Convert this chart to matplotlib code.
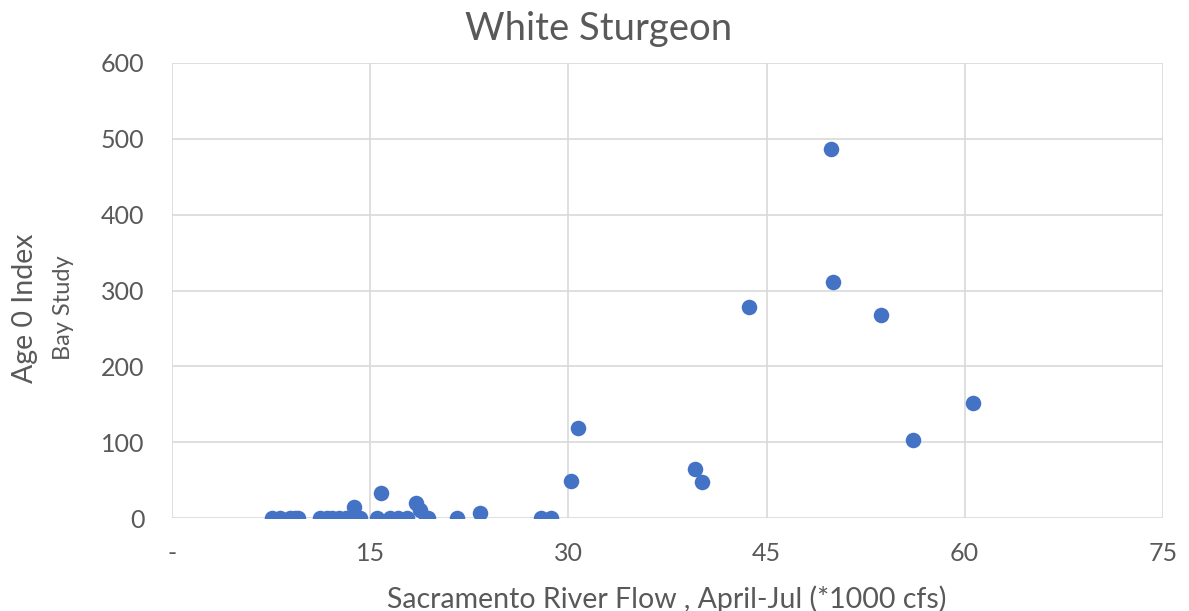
import matplotlib
matplotlib.use('Agg')
import matplotlib.pyplot as plt

# Sacramento River flow (April-Jul, *1000 cfs) vs Bay Study age-0 index
flow = [7.6, 8.2, 8.9, 9.3, 9.5,
        11.2, 11.7, 12.1, 12.6, 13.2, 13.9, 14.2,
        13.8, 15.5, 15.8, 16.5, 17.1, 17.8,
        18.5, 18.8, 19.2, 19.4,
        21.6, 23.3, 27.9, 28.7, 30.2, 30.7,
        39.6, 40.1, 43.7, 49.9, 50.0, 53.7, 56.1, 60.6]
index = [0, 0, 0, 0, 0,
         0, 0, 0, 0, 0, 0, 0,
         15, 0, 33, 0, 0, 0,
         20, 11, 0, 0,
         0, 7, 0, 0, 49, 119,
         65, 48, 278, 487, 311, 268, 103, 152]

xticks = [0, 15, 30, 45, 60, 75]
xtick_labels = ['-', '15', '30', '45', '60', '75']
yticks = [0, 100, 200, 300, 400, 500, 600]

text_color = '#595959'
grid_color = '#d9d9d9'

plt.rcParams['font.family'] = ['Lato', 'DejaVu Sans']

fig = plt.figure(figsize=(11.89, 6.11), dpi=100)
ax = fig.add_axes([0.1447, 0.152, 0.8333, 0.745])

ax.scatter(flow, index, s=125, color='#4472C4', zorder=3, linewidths=0)

ax.set_xlim(0, 75)
ax.set_ylim(0, 600)
ax.set_xticks(xticks)
ax.set_xticklabels(xtick_labels)
ax.set_yticks(yticks)
ax.grid(True, color=grid_color, linewidth=1.2)
ax.set_axisbelow(True)
for s in ax.spines.values():
    s.set_visible(False)
ax.tick_params(length=0, labelsize=18, labelcolor=text_color)
ax.tick_params(axis='y', pad=20)
ax.tick_params(axis='x', pad=17)

fig.text(0.503, 0.952, 'White Sturgeon', ha='center', va='center', fontsize=27.5, color=text_color)
fig.text(0.561, 0.020, 'Sacramento River Flow , April-Jul (*1000 cfs)', ha='center', va='center',
         fontsize=20.5, color=text_color)
fig.text(0.021, 0.496, 'Age 0 Index', rotation=90, ha='center', va='center', fontsize=20.5, color=text_color)
fig.text(0.053, 0.496, 'Bay Study', rotation=90, ha='center', va='center', fontsize=17, color=text_color)

fig.savefig('out.png', dpi=100)
